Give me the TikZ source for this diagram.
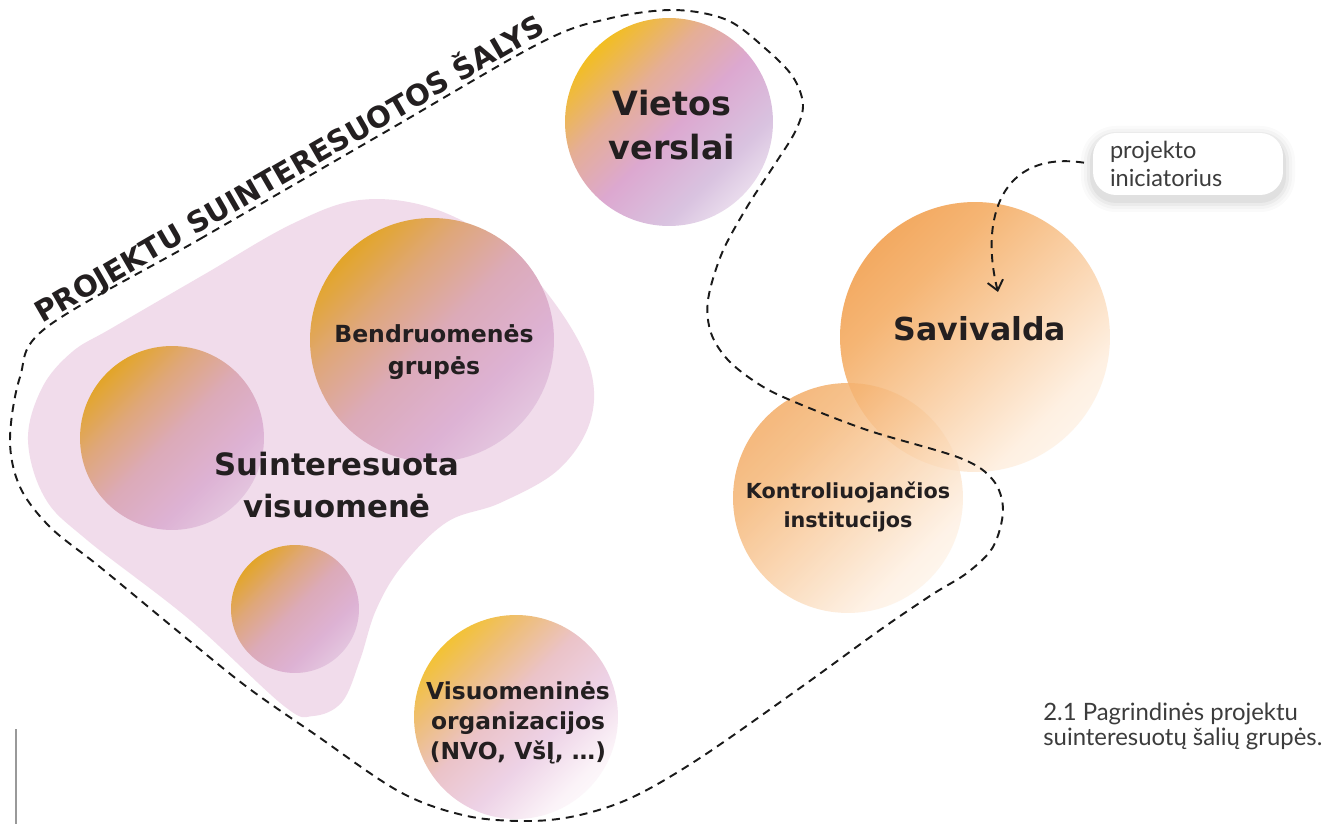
\documentclass[tikz,border=0pt]{standalone}
\usepackage{fontspec}
\setmainfont{Lato}
\newfontfamily\lblfont{DejaVu Sans}
\usetikzlibrary{arrows.meta}
\definecolor{ink}{HTML}{231F20}
\definecolor{pinkbg}{HTML}{F1DCEB}
\definecolor{dashc}{HTML}{1A1A1A}
\definecolor{capc}{HTML}{3C3C3C}
\definecolor{vw}{HTML}{FBF6FA}
\definecolor{vl}{HTML}{D9C3E0}
\definecolor{vp}{HTML}{DCA8D0}
\definecolor{vo}{HTML}{E5AE96}
\definecolor{vy}{HTML}{F3BF1A}
\definecolor{bw}{HTML}{E8D2E6}
\definecolor{bl}{HTML}{DDB2D4}
\definecolor{bp}{HTML}{DCAAB8}
\definecolor{bo}{HTML}{DFA77A}
\definecolor{by}{HTML}{E3A51C}
\definecolor{ww}{HTML}{FFFFFF}
\definecolor{wv}{HTML}{FBF3F8}
\definecolor{wl}{HTML}{EDD2E6}
\definecolor{wp}{HTML}{EBC3C8}
\definecolor{wo}{HTML}{EEBE78}
\definecolor{wy}{HTML}{F5C418}
\definecolor{sw}{HTML}{FFF8F2}
\definecolor{sv}{HTML}{FEF0E2}
\definecolor{sl}{HTML}{FAD3AC}
\definecolor{sm}{HTML}{F5B574}
\definecolor{so}{HTML}{F2A458}
\pgfdeclareverticalshading{shVietos}{100bp}{color(0bp)=(vw); color(16bp)=(vw); color(33bp)=(vl); color(48bp)=(vp); color(61bp)=(vo); color(76bp)=(vy); color(100bp)=(vy)}
\pgfdeclareverticalshading{shBend}{100bp}{color(0bp)=(bw); color(18bp)=(bw); color(35bp)=(bl); color(50bp)=(bp); color(63bp)=(bo); color(77bp)=(by); color(100bp)=(by)}
\pgfdeclareverticalshading{shVis}{100bp}{color(0bp)=(ww); color(18bp)=(ww); color(28bp)=(wv); color(41bp)=(wl); color(54bp)=(wp); color(66bp)=(wo); color(79bp)=(wy); color(100bp)=(wy)}
\pgfdeclareverticalshading{shSav}{100bp}{color(0bp)=(sw); color(18bp)=(sw); color(30bp)=(sv); color(47bp)=(sl); color(65bp)=(sm); color(80bp)=(so); color(100bp)=(so)}
\tikzset{
  bubble/.style 2 args={circle, inner sep=0pt, minimum size=#1, shade, shading=#2, shading angle=45, draw=none},
  lbl/.style={text=ink, align=center, inner sep=0pt},
  outline/.style={draw=dashc, line width=1.1pt, dash pattern=on 4.6pt off 3.4pt},
  callout/.style={fill=white, rounded corners=0.46cm, minimum width=3.8cm, minimum height=1.24cm, text width=3.12cm, inner xsep=0.34cm, align=left, text=capc, font=\fontsize{13.4}{15.9}\selectfont},
}
\begin{document}
\begin{tikzpicture}[x=0.02cm,y=-0.02cm]
\useasboundingbox (0,0) rectangle (1326,824);
\fill[white] (0,0) rectangle (1326,824);

% pink blob
\fill[pinkbg] plot[smooth cycle, tension=0.6] coordinates {
 (28,440) (42,388) (72,352) (112,328) (205,274) (292,224) (360,200) (432,208)
 (502,246) (556,305) (590,368) (590,422) (558,470) (500,503) (447,522)
 (402,566) (376,610) (360,660) (342,702) (313,716) (284,706) (190,620)
 (87,540) (45,498)};

% circles
\node[bubble={4.88cm}{shBend}] (bendC) at (432,340) {};
\node[bubble={3.68cm}{shBend}] (leftC) at (172,438) {};
\node[bubble={2.56cm}{shBend}] (smallC) at (295,609) {};
\node[bubble={4.16cm}{shVietos}] (vietC) at (669,122) {};
\node[bubble={4.08cm}{shVis}] (visC) at (516,717) {};
\node[bubble={5.4cm}{shSav}] (savC) at (975,337) {};
\node[bubble={4.6cm}{shSav}, fill opacity=0.82] (kontC) at (848,498) {};

% labels
\node[lbl, font=\lblfont\bfseries\fontsize{13.4}{18}\selectfont] (bendL) at (434,352) {Bendruomenės\\grupės};
\node[lbl, font=\lblfont\bfseries\fontsize{17.5}{24}\selectfont] (suinL) at (337,485) {Suinteresuota\\visuomenė};
\node[lbl, font=\lblfont\bfseries\fontsize{19}{25}\selectfont] (vietL) at (672,125) {Vietos\\verslai};
\node[lbl, font=\lblfont\bfseries\fontsize{18}{24}\selectfont] (savL) at (980,329) {Savivalda};
\node[lbl, font=\lblfont\bfseries\fontsize{11.8}{16.4}\selectfont] (kontL) at (848,507) {Kontroliuojančios\\institucijos};
\node[lbl, font=\lblfont\bfseries\fontsize{13.3}{17.2}\selectfont] (visL) at (518,723) {Visuomeninės\\organizacijos\\(NVO, VšĮ, …)};

% dashed outline
\draw[outline] plot[smooth cycle, tension=0.55] coordinates {
 (47,327) (200,239) (380,135) (540,43) (607,19) (673,10) (727,20) (767,50)
 (793,77) (803,105) (795,132) (773,167) (747,207) (722,253) (708,300)
 (711,333) (728,360) (757,383) (790,400) (867,430) (960,458) (993,480)
 (1003,510) (993,547) (967,573) (933,594) (880,630) (800,688) (700,758)
 (633,797) (580,815) (530,821) (467,816) (400,792) (313,733) (247,687)
 (180,633) (100,567) (50,527) (20,487) (10,440) (20,377)};

% title along outline
\node[anchor=base west, rotate=30, inner sep=0pt, text=ink, font=\lblfont\bfseries\fontsize{16.6}{20}\selectfont] (title) at (42,324) {PROJEKTU SUINTERESUOTOS ŠALYS};

% callout shadow
\foreach \s/\o in {12/0.02,9/0.025,6/0.035,3/0.045}{
  \fill[black, opacity=\o, rounded corners=0.46cm+\s*0.02cm] (1093-\s,133-\s+5) rectangle (1283+\s,195+\s+5);
}
\node[callout] (init) at (1188,164) {projekto\\iniciatorius};
\coordinate (savIn) at (998,292);
\draw[draw=dashc, line width=1.1pt, dash pattern=on 4.6pt off 3.4pt, shorten <=5pt, -{Straight Barb[length=5.5pt,width=9pt,line width=1.1pt]}]
  (init.west) .. controls (1000,150) and (980,220) .. (savIn);

% caption
\node[anchor=base west, align=left, inner sep=0pt, text=capc, font=\fontsize{13.6}{14.2}\selectfont] (cap) at (1043,745) {2.1 Pagrindinės projektu\\suinteresuotų šalių grupės.};

% left margin rule
\draw[draw=gray!80, line width=1.2pt] (16,729) -- (16,824);
\end{tikzpicture}
\end{document}
